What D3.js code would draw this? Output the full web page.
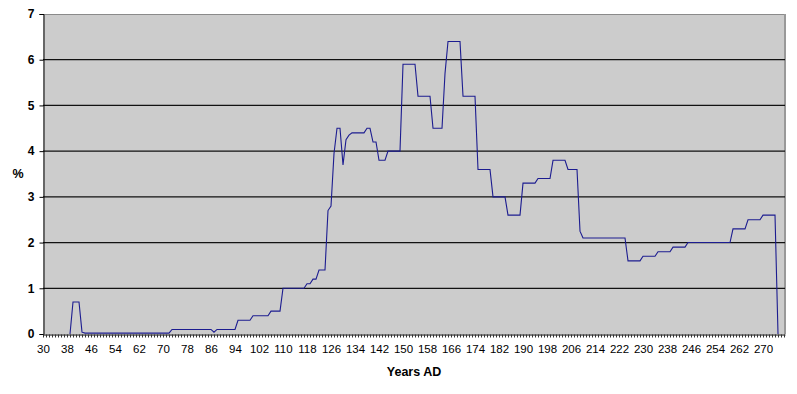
<!DOCTYPE html>
<html>
<head>
<meta charset="utf-8">
<script src="https://cdn.jsdelivr.net/npm/d3@7"></script>
<style>
  html, body { margin: 0; padding: 0; background: #ffffff; }
  svg { display: block; font-family: Arial, "Liberation Sans", sans-serif; }
</style>
</head>
<body>
<svg id="chart" width="797" height="394"></svg>
<script>
// ---- data ----
const firstYear = 39;
const values = [
  0,
  0.7, 0.7, 0.7, 0.04, 0.02, 0.02, 0.02, 0.02, 0.02, 0.02,   // 40-49
  0.02, 0.02, 0.02, 0.02, 0.02, 0.02, 0.02, 0.02, 0.02, 0.02, // 50-59
  0.02, 0.02, 0.02, 0.02, 0.02, 0.02, 0.02, 0.02, 0.02, 0.02, // 60-69
  0.02, 0.02, 0.02, 0.1, 0.1, 0.1, 0.1, 0.1, 0.1, 0.1,       // 70-79
  0.1, 0.1, 0.1, 0.1, 0.1, 0.1, 0.1, 0.04, 0.1, 0.1,         // 80-89
  0.1, 0.1, 0.1, 0.1, 0.1, 0.3, 0.3, 0.3, 0.3, 0.3,          // 90-99
  0.4, 0.4, 0.4, 0.4, 0.4, 0.4, 0.5, 0.5, 0.5, 0.5,          // 100-109
  1.0, 1.0, 1.0, 1.0, 1.0, 1.0, 1.0, 1.0, 1.1, 1.1,          // 110-119
  1.2, 1.2, 1.4, 1.4, 1.4, 2.7, 2.8, 3.95, 4.5, 4.5,         // 120-129
  3.7, 4.25, 4.35, 4.4, 4.4, 4.4, 4.4, 4.4, 4.5, 4.5,        // 130-139
  4.2, 4.2, 3.8, 3.8, 3.8, 4.0, 4.0, 4.0, 4.0, 4.0,          // 140-149
  5.9, 5.9, 5.9, 5.9, 5.9, 5.2, 5.2, 5.2, 5.2, 5.2,          // 150-159
  4.5, 4.5, 4.5, 4.5, 5.7, 6.4, 6.4, 6.4, 6.4, 6.4,          // 160-169
  5.2, 5.2, 5.2, 5.2, 5.2, 3.6, 3.6, 3.6, 3.6, 3.6,          // 170-179
  3.0, 3.0, 3.0, 3.0, 3.0, 2.6, 2.6, 2.6, 2.6, 2.6,          // 180-189
  3.3, 3.3, 3.3, 3.3, 3.3, 3.4, 3.4, 3.4, 3.4, 3.4,          // 190-199
  3.8, 3.8, 3.8, 3.8, 3.8, 3.6, 3.6, 3.6, 3.6, 2.25,         // 200-209
  2.1, 2.1, 2.1, 2.1, 2.1, 2.1, 2.1, 2.1, 2.1, 2.1,          // 210-219
  2.1, 2.1, 2.1, 2.1, 2.1, 1.6, 1.6, 1.6, 1.6, 1.6,          // 220-229
  1.7, 1.7, 1.7, 1.7, 1.7, 1.8, 1.8, 1.8, 1.8, 1.8,          // 230-239
  1.9, 1.9, 1.9, 1.9, 1.9, 2.0, 2.0, 2.0, 2.0, 2.0,          // 240-249
  2.0, 2.0, 2.0, 2.0, 2.0, 2.0, 2.0, 2.0, 2.0, 2.0,          // 250-259
  2.3, 2.3, 2.3, 2.3, 2.3, 2.5, 2.5, 2.5, 2.5, 2.5,          // 260-269
  2.6, 2.6, 2.6, 2.6, 2.6, 0                                  // 270-275
];
const years = d3.range(firstYear, firstYear + values.length);
const axisFirstYear = 30;
const axisLastYear = 277.33;
const xLabelYears = d3.range(30, 271, 8);
const yTicks = [0, 1, 2, 3, 4, 5, 6, 7];
const xTitle = "Years AD";
const yTitle = "%";

// ---- layout ----
const L = 43, R = 785, T = 14, B = 334;
const svg = d3.select("#chart");
const x = d3.scaleLinear().domain([axisFirstYear, axisLastYear]).range([L, R]);
const y = d3.scaleLinear().domain([0, 7]).range([B, T]);

// plot area
svg.append("rect").attr("x", L).attr("y", T).attr("width", R - L).attr("height", B - T)
  .attr("fill", "#cccccc");
// top & right border
svg.append("line").attr("x1", L).attr("x2", R).attr("y1", T + 0.5).attr("y2", T + 0.5)
  .attr("stroke", "#8a8a8a").attr("stroke-width", 1);
svg.append("line").attr("x1", R).attr("x2", R).attr("y1", T).attr("y2", B)
  .attr("stroke", "#999999").attr("stroke-width", 2);

// gridlines
svg.append("g").selectAll("line").data(yTicks.filter(d => d > 0 && d < 7)).join("line")
  .attr("x1", L).attr("x2", R).attr("y1", d => y(d)).attr("y2", d => y(d))
  .attr("stroke", "#111").attr("stroke-width", 1.2);

// series line
const line = d3.line().x((d, i) => x(years[i])).y(d => y(d));
svg.append("path").datum(values).attr("d", line)
  .attr("fill", "none").attr("stroke", "#1c1c90").attr("stroke-width", 1.1);

// y axis
const yAxis = d3.axisLeft(y).tickValues(yTicks).tickSize(4).tickPadding(5).tickFormat(d3.format("d"));
const gy = svg.append("g").attr("transform", `translate(${L + 0.5},0)`).call(yAxis);
gy.select(".domain").attr("stroke", "#000");
gy.selectAll(".tick line").attr("stroke", "#000");
gy.selectAll(".tick text").attr("font-size", 12).attr("font-weight", "bold")
  .attr("font-family", "Arial, 'Liberation Sans', sans-serif").attr("fill", "#000");

// x axis: a tick for every year, labels every 8 years
const allYears = d3.range(axisFirstYear, Math.floor(axisLastYear) + 1);
const xAxis = d3.axisBottom(x).tickValues(allYears).tickSize(3).tickPadding(7)
  .tickSizeOuter(0)
  .tickFormat(d => xLabelYears.includes(d) ? String(d) : "");
const gx = svg.append("g").attr("transform", `translate(0,${B + 0.5})`).call(xAxis);
gx.select(".domain").attr("stroke", "#000");
gx.selectAll(".tick line").attr("stroke", "#333");
gx.selectAll(".tick text").attr("font-size", 11.5)
  .attr("font-family", "Arial, 'Liberation Sans', sans-serif").attr("fill", "#000");

// titles
svg.append("text").attr("x", 414).attr("y", 376).attr("text-anchor", "middle")
  .attr("font-size", 12.5).attr("font-weight", "bold").text(xTitle);
svg.append("text").attr("x", 18).attr("y", 178).attr("text-anchor", "middle")
  .attr("font-size", 12.5).attr("font-weight", "bold").text(yTitle);
</script>
</body>
</html>
